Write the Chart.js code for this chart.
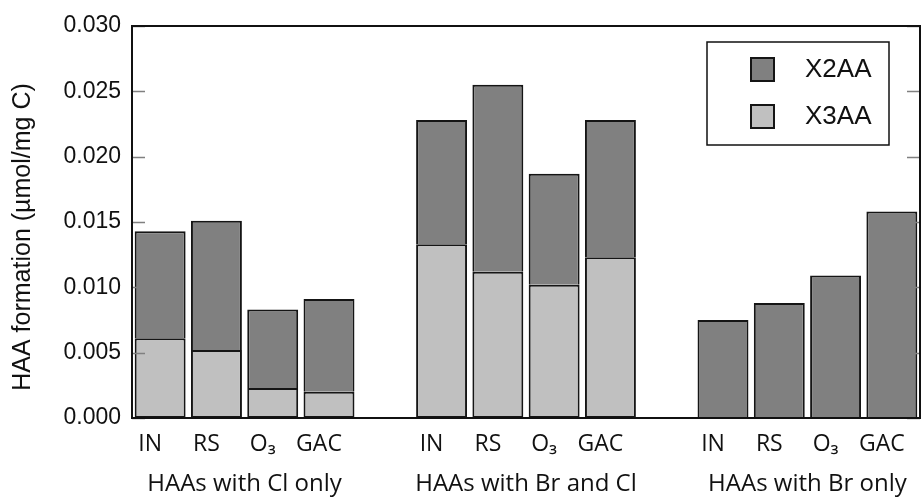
<!DOCTYPE html>
<html>
<head>
<meta charset="utf-8">
<script src="https://cdn.jsdelivr.net/npm/chart.js@4.4.1/dist/chart.umd.min.js"></script>
<style>
    html, body { margin: 0; padding: 0; background: #fff; }
    #wrap { width: 922px; height: 499px; }
</style>
</head>
<body>
<div id="wrap"><canvas id="haaChart" width="922" height="499"></canvas></div>
<script>
// Data (µmol/mg C)
const groupNames = ['HAAs with Cl only', 'HAAs with Br and Cl', 'HAAs with Br only'];
const treatments = ['IN', 'RS', 'O₃', 'GAC'];

// X2AA = upper (dark) segment
const x2aaClOnly = [0.0082, 0.0099, 0.0060, 0.0071];
const x2aaBrCl   = [0.0095, 0.0143, 0.0085, 0.0105];
const x2aaBrOnly = [0.0075, 0.0088, 0.0109, 0.0158];

// X3AA = lower (light) segment
const x3aaClOnly = [0.0061, 0.0052, 0.0023, 0.0020];
const x3aaBrCl   = [0.0133, 0.0112, 0.0102, 0.0123];
const x3aaBrOnly = [0, 0, 0, 0];

const yTicks = [0, 0.005, 0.010, 0.015, 0.020, 0.025, 0.030];
const yTitle = 'HAA formation (µmol/mg C)';

const DARK = '#808080';
const LIGHT = '#c0c0c0';
const EDGE = '#151515';

// One empty slot between the groups
function withGaps(groups, blank) {
    const out = [];
    groups.forEach((g, i) => {
        if (i > 0) out.push(blank);
        g.forEach(v => out.push(v));
    });
    return out;
}

const labels = withGaps([treatments, treatments, treatments], '');
const x2aa = withGaps([x2aaClOnly, x2aaBrCl, x2aaBrOnly], null);
const x3aa = withGaps([x3aaClOnly, x3aaBrCl, x3aaBrOnly], null);

// Frame, inward ticks, axis title, group captions and boxed legend
const decorPlugin = {
    id: 'decor',
    afterDraw(chart) {
        const ctx = chart.ctx;
        const area = chart.chartArea;
        const x = chart.scales.x;
        const y = chart.scales.y;

        ctx.save();

        // inward tick marks on left and right
        ctx.strokeStyle = '#808080';
        ctx.lineWidth = 1.5;
        yTicks.forEach(v => {
            const py = Math.round(y.getPixelForValue(v)) + 0.5;
            ctx.beginPath();
            ctx.moveTo(area.left, py);
            ctx.lineTo(area.left + 13, py);
            ctx.moveTo(area.right, py);
            ctx.lineTo(area.right - 13, py);
            ctx.stroke();
        });

        // plot frame
        ctx.strokeStyle = '#111';
        ctx.lineWidth = 2;
        ctx.strokeRect(area.left, area.top, area.right - area.left, area.bottom - area.top);

        // y axis title (sits a bit below the plot centre in the original)
        ctx.fillStyle = '#111';
        ctx.font = '25px "Liberation Sans", Arial, sans-serif';
        ctx.textAlign = 'center';
        ctx.textBaseline = 'middle';
        ctx.save();
        ctx.translate(23, 237);
        ctx.rotate(-Math.PI / 2);
        ctx.fillText(yTitle, 0, 0);
        ctx.restore();

        // group captions under the treatment labels
        ctx.font = '24px "Open Sans", sans-serif';
        groupNames.forEach((name, i) => {
            const first = i * (treatments.length + 1);
            const last = first + treatments.length - 1;
            const cx = (x.getPixelForValue(first) + x.getPixelForValue(last)) / 2;
            ctx.fillText(name, cx, 484);
        });

        // legend box
        const lx = 707, ly = 42, lw = 182, lh = 103;
        ctx.fillStyle = '#fff';
        ctx.fillRect(lx, ly, lw, lh);
        ctx.strokeStyle = '#111';
        ctx.lineWidth = 1.5;
        ctx.strokeRect(lx, ly, lw, lh);

        const order = [1, 0];
        ctx.font = '26px "Liberation Sans", Arial, sans-serif';
        ctx.textAlign = 'left';
        order.forEach((di, row) => {
            const ds = chart.data.datasets[di];
            const sy = 58 + row * 47;
            ctx.fillStyle = ds.backgroundColor;
            ctx.fillRect(751, sy, 23, 23);
            ctx.strokeStyle = EDGE;
            ctx.lineWidth = 2;
            ctx.strokeRect(751, sy, 23, 23);
            ctx.fillStyle = '#111';
            ctx.fillText(ds.label, 805, sy + 12);
        });

        ctx.restore();
    }
};

const ctx = document.getElementById('haaChart');
new Chart(ctx, {
    type: 'bar',
    data: {
        labels: labels,
        datasets: [
            {
                label: 'X3AA',
                data: x3aa,
                backgroundColor: LIGHT,
                borderColor: EDGE,
                borderWidth: 2,
                borderSkipped: false
            },
            {
                label: 'X2AA',
                data: x2aa,
                backgroundColor: DARK,
                borderColor: EDGE,
                borderWidth: 2,
                borderSkipped: 'start'
            }
        ]
    },
    options: {
        responsive: false,
        animation: false,
        devicePixelRatio: 1,
        layout: { padding: { top: 26, right: 2, left: 0, bottom: 0 } },
        datasets: {
            bar: { barPercentage: 0.905, categoryPercentage: 1.0 }
        },
        plugins: {
            legend: { display: false },
            tooltip: { enabled: false }
        },
        scales: {
            x: {
                stacked: true,
                grid: { display: false, drawTicks: false },
                border: { display: false },
                ticks: {
                    color: '#111',
                    font: { family: '"Open Sans", sans-serif', size: 23 },
                    padding: 13,
                    labelOffset: -10,
                    maxRotation: 0,
                    autoSkip: false
                },
                afterFit(scale) {
                    scale.height = 81;
                    scale.paddingLeft = 0;
                    scale.paddingRight = 0;
                }
            },
            y: {
                stacked: true,
                min: 0,
                max: 0.03,
                grid: { display: false, drawTicks: false },
                border: { display: false },
                afterBuildTicks(scale) {
                    scale.ticks = yTicks.map(v => ({ value: v }));
                },
                ticks: {
                    color: '#111',
                    font: { family: '"Liberation Sans", Arial, sans-serif', size: 23 },
                    padding: 11,
                    callback: v => v.toFixed(3)
                },
                afterFit(scale) {
                    scale.width = 132;
                    scale.paddingTop = 0;
                    scale.paddingBottom = 0;
                }
            }
        }
    },
    plugins: [decorPlugin]
});
</script>
</body>
</html>
